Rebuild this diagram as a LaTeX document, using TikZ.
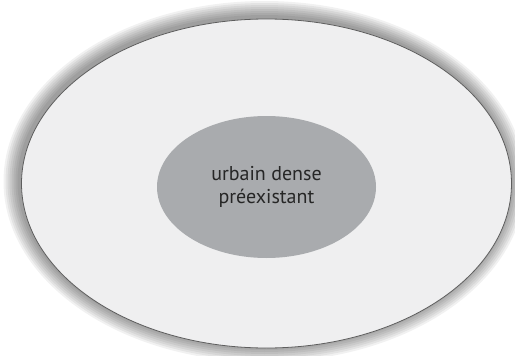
\documentclass[tikz,border=0pt]{standalone}
\usepackage{fontspec}
\setmainfont{PT Sans}
\usetikzlibrary{shapes.geometric}
\definecolor{zonefill}{HTML}{EFEFF0}
\definecolor{corefill}{HTML}{A9ABAE}
\definecolor{rimline}{HTML}{5E5E5E}
\definecolor{labeltext}{HTML}{262626}

\begin{document}
\begin{tikzpicture}[x=1pt, y=-1pt,
      zone/.style={ellipse, draw=rimline, line width=0.8pt, fill=zonefill,
                   minimum width=490pt, minimum height=329pt, inner sep=0pt},
      core/.style={ellipse, fill=corefill, minimum width=219pt, minimum height=142pt,
                   align=center, text=labeltext, font=\fontsize{20}{23}\selectfont}]
      \useasboundingbox[fill=white] (0,0) rectangle (515,356);
      % soft shadow round the outer zone
      \foreach \r in {16,14,...,2}
        \fill[black, opacity=0.055] (264.5,181.5) ellipse ({245+\r} and {164.5+\r});
      \node[zone] (outer) at (266.5,183.5) {};
      \node[core] (inner) at (266.5,187) {urbain dense\\préexistant};
    \end{tikzpicture}
\end{document}
